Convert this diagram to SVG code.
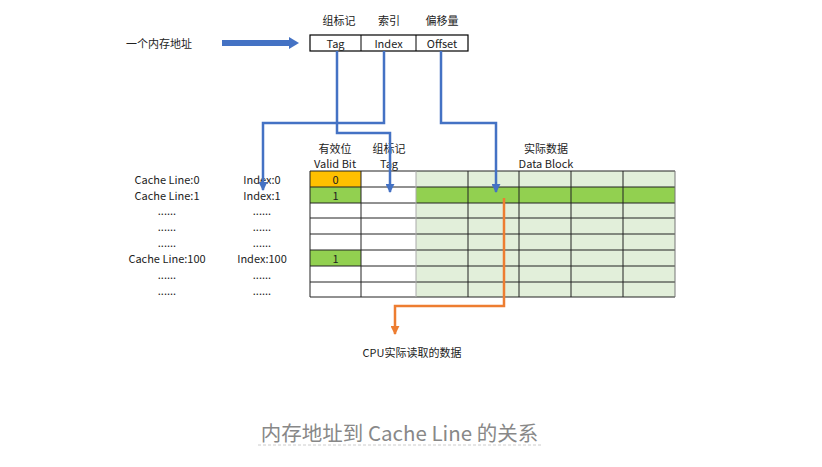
<svg xmlns="http://www.w3.org/2000/svg" width="822" height="467" viewBox="0 0 822 467">
<defs>
<style>
text{font-family:"Noto Sans CJK SC","Liberation Sans",sans-serif;font-size:11px;fill:#222;text-anchor:middle;dominant-baseline:central}
.blue{fill:none;stroke:#4472C4;stroke-width:2.5}
.orange{fill:none;stroke:#ED7D31;stroke-width:2.5}
.grid{stroke:#222;stroke-width:1;fill:none}
</style>
<marker id="ab" viewBox="0 0 10 10" refX="9" refY="5" markerWidth="3.6" markerHeight="3.6" orient="auto" markerUnits="strokeWidth"><path d="M0,0L10,5L0,10z" fill="#4472C4"/></marker>
<marker id="ao" viewBox="0 0 10 10" refX="9" refY="5" markerWidth="3.6" markerHeight="3.6" orient="auto" markerUnits="strokeWidth"><path d="M0,0L10,5L0,10z" fill="#ED7D31"/></marker>
</defs>
<rect width="822" height="467" fill="#fff"/>

<g id="address-label"><text x="159" y="43">一个内存地址</text></g>
<g id="address">
<text x="339" y="20">组标记</text><text x="389" y="20">索引</text><text x="442" y="20">偏移量</text>
<rect x="310" y="35" width="158" height="16" fill="#fff" stroke="#000" stroke-width="1.2"/>
<line x1="361" y1="35" x2="361" y2="51" stroke="#000"/><line x1="416" y1="35" x2="416" y2="51" stroke="#000"/>
<text x="335.5" y="43">Tag</text><text x="388.5" y="43">Index</text><text x="442" y="43">Offset</text>
</g>

<g id="headers">
<text x="335" y="148">有效位</text><text x="335" y="163">Valid Bit</text>
<text x="389" y="148">组标记</text><text x="389" y="163">Tag</text>
<text x="546" y="148">实际数据</text><text x="546" y="163">Data Block</text>
</g>

<g id="row-labels">
<text x="167" y="179">Cache Line:0</text><text x="262" y="179">Index:0</text>
<text x="167" y="195">Cache Line:1</text><text x="262" y="195">Index:1</text>
<text x="167" y="210">......</text><text x="262" y="210">......</text>
<text x="167" y="226">......</text><text x="262" y="226">......</text>
<text x="167" y="242">......</text><text x="262" y="242">......</text>
<text x="167" y="258">Cache Line:100</text><text x="262" y="258">Index:100</text>
<text x="167" y="274">......</text><text x="262" y="274">......</text>
<text x="167" y="290">......</text><text x="262" y="290">......</text>
</g>

<g id="cache-table">
<rect x="416" y="171" width="259" height="126" fill="#E2EFDA"/>
<rect x="416" y="187" width="259" height="16" fill="#92D050"/>
<rect x="310" y="171" width="51" height="16" fill="#FFC000"/>
<rect x="310" y="187" width="51" height="16" fill="#92D050"/>
<rect x="310" y="250" width="51" height="16" fill="#92D050"/>
<path class="grid" d="M310,171H675M310,187H675M310,203H675M310,218H675M310,234H675M310,250H675M310,266H675M310,282H675M310,297H675M310,171V297M361,171V297M468,171V297M519,171V297M571,171V297M623,171V297"/>
<line x1="416" y1="171" x2="416" y2="297" stroke="#aaa"/>
<line x1="675" y1="171" x2="675" y2="297" stroke="#777"/>
<text x="335.5" y="179">0</text><text x="335.5" y="195">1</text><text x="335.5" y="258">1</text>
</g>

<g id="result-label"><text x="412" y="352">CPU实际读取的数据</text></g>

<g id="connectors">
<path d="M222,43H290" fill="none" stroke="#4472C4" stroke-width="6"/>
<path d="M289,37L299,43L289,49z" fill="#4472C4"/>
<path class="blue" d="M384,51V123H263V190" marker-end="url(#ab)"/>
<path class="blue" d="M337,51V133H390V192" marker-end="url(#ab)"/>
<path class="blue" d="M441,51V123H496V192" marker-end="url(#ab)"/>
<path class="orange" d="M504,198V306H395V334" marker-end="url(#ao)"/>
</g>

<g id="title">
<text x="399.5" y="432" style="font-size:20.5px;fill:#888">内存地址到 Cache Line 的关系</text>
<line x1="258" y1="445" x2="541" y2="445" stroke="#ccc" stroke-dasharray="3,2"/>
</g>
</svg>
